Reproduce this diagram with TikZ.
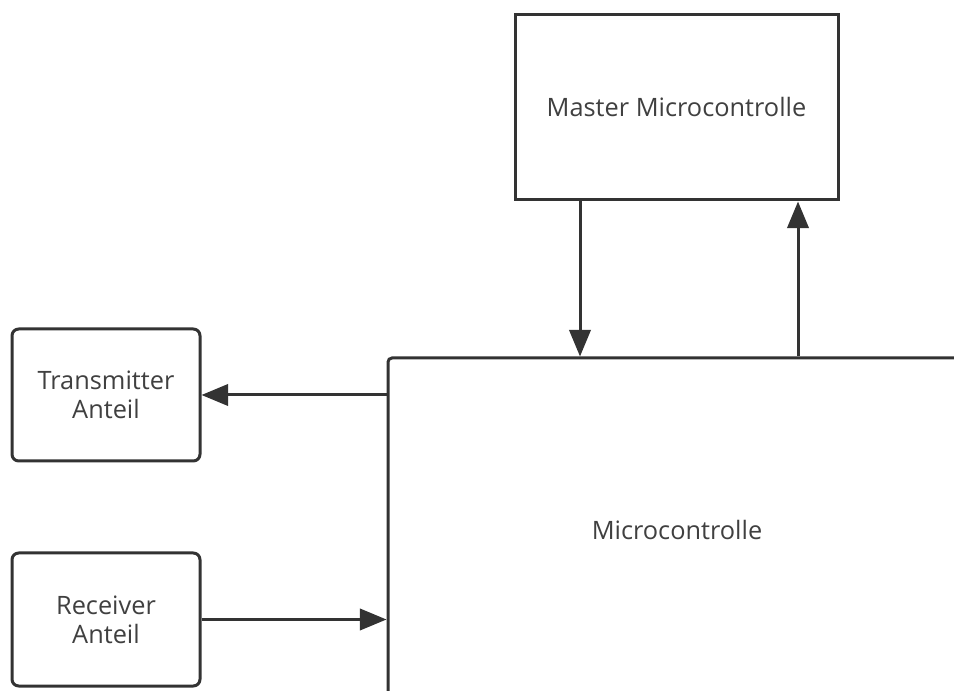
\documentclass[tikz,border=0pt]{standalone}
\usepackage{fontspec}
\setmainfont{Open Sans}
\usetikzlibrary{arrows.meta}
\definecolor{linegray}{HTML}{333333}
\definecolor{textgray}{HTML}{404040}

\begin{document}
\begin{tikzpicture}[x=0.75pt, y=-0.75pt,
    box/.style={draw=linegray, line width=2.25pt, fill=white, text=textgray,
        align=center, inner sep=0pt, font=\fontsize{19pt}{22pt}\selectfont},
    conn/.style={draw=linegray, line width=2.25pt,
        -{Triangle[length=20pt, width=16pt]}}]
    % --- page frame ---
    \useasboundingbox (0,0) rectangle (954,691);
    \clip (0,0) rectangle (954,691);

    % --- boxes ---
    \node[box, minimum width=323*0.75pt, minimum height=185*0.75pt]
        (master) at (676.5,107.5) {Master Microcontrolle};
    \node[box, rounded corners=3pt, minimum width=578*0.75pt, minimum height=344*0.75pt]
        (micro) at (677,530) {Microcontrolle};
    \node[box, rounded corners=5pt, minimum width=188*0.75pt, minimum height=132*0.75pt]
        (trans) at (106,395) {Transmitter\\Anteil};
    \node[box, rounded corners=5pt, minimum width=188*0.75pt, minimum height=133*0.75pt]
        (recv) at (106,619.5) {Receiver\\Anteil};

    % --- connectors ---
    \coordinate (down) at (580,0);
    \coordinate (up) at (798,0);
    \draw[conn] (master.south -| down) -- (micro.north -| down);
    \draw[conn] (micro.north -| up) -- (master.south -| up);
    \draw[conn] (micro.west |- trans.east) -- (trans.east);
    \draw[conn] (recv.east) -- (micro.west |- recv.east);

\end{tikzpicture}
\end{document}
